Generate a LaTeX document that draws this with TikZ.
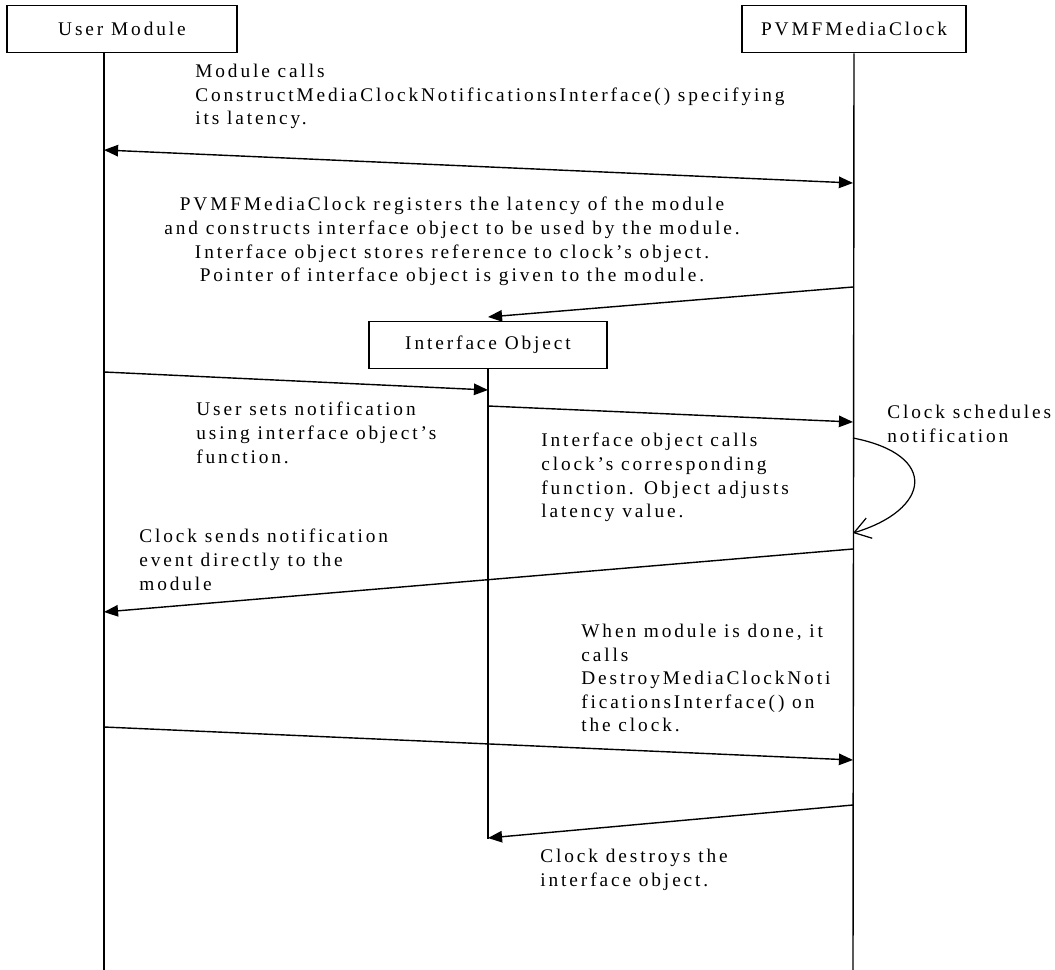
\documentclass[tikz,border=0pt]{standalone}
\usepackage{fontspec}
\setmainfont[LetterSpace=15]{Liberation Serif}
\usetikzlibrary{arrows.meta,positioning}
\tikzset{
  objbox/.style={draw, line width=0.9pt, minimum height=0.94cm, inner sep=0pt, font=\fontsize{11}{13.5}\selectfont},
  lifeline/.style={line width=0.8pt},
  msg/.style={line width=0.8pt, -{Triangle[length=8pt,width=6.5pt]}},
  msgboth/.style={line width=0.8pt, {Triangle[length=8pt,width=6.5pt]}-{Triangle[length=8pt,width=6.5pt]}},
  selfmsg/.style={line width=0.7pt, -{Straight Barb[length=9pt,width=12pt]}},
  note/.style={anchor=north west, inner sep=0pt, align=left, font=\fontsize{11}{13.4}\selectfont}
}
\begin{document}
\begin{tikzpicture}[x=0.02cm, y=-0.02cm]
\useasboundingbox (0,0) rectangle (1055,970);
% Objects
\node[objbox, minimum width=4.6cm] (user) at (122,29) {User Module};
\node[objbox, minimum width=4.48cm] (clock) at (854,29) {PVMFMediaClock};
\node[objbox, minimum width=4.76cm] (iface) at (488,345) {Interface Object};
% Lifelines
\coordinate (uTop) at (104,53);
\coordinate (uEnd) at (104,970);
\coordinate (cEnd) at (853,970);
\coordinate (iEnd) at (488,839);
\draw[lifeline] (uTop) -- (uEnd);
\draw[lifeline] (clock.south) -- (cEnd);
\draw[lifeline] (iface.south) -- (iEnd);
% Construct interface
\coordinate (u1) at (104,150);
\coordinate (c1) at (853,183);
\draw[msgboth] (u1) -- (c1);
\node[note] (t1) at (195,64) {Module calls\\ConstructMediaClockNotificationsInterface() specifying\\its latency.};
% Interface pointer handed back
\coordinate (c2) at (853,287);
\coordinate (i2) at (488,317);
\draw[msg] (c2) -- (i2);
\node[note, anchor=north, align=center] (t2) at (452,197) {PVMFMediaClock registers the latency of the module\\and constructs interface object to be used by the module.\\Interface object stores reference to clock's object.\\Pointer of interface object is given to the module.};
% Set notification
\coordinate (u3) at (104,372);
\coordinate (i3) at (488,390);
\draw[msg] (u3) -- (i3);
\node[note] (t3) at (196,402) {User sets notification\\using interface object's\\function.};
\coordinate (i4) at (488,406);
\coordinate (c4) at (853,422);
\draw[msg] (i4) -- (c4);
\node[note] (t4) at (541,433) {Interface object calls\\clock's corresponding\\function. Object adjusts\\latency value.};
% Clock schedules
\coordinate (c5a) at (853,438);
\coordinate (c5b) at (853,533);
\draw[selfmsg] (c5a) .. controls (940,455) and (930,510) .. (c5b);
\node[note] (t5) at (887,405) {Clock schedules\\notification};
% Notification event
\coordinate (c6) at (853,549);
\coordinate (u6) at (104,612);
\draw[msg] (c6) -- (u6);
\node[note] (t6) at (139,529) {Clock sends notification\\event directly to the\\module};
% Destroy
\coordinate (u7) at (104,727);
\coordinate (c7) at (853,760);
\draw[msg] (u7) -- (c7);
\node[note] (t7) at (581,624) {When module is done, it\\calls\\DestroyMediaClockNoti\\ficationsInterface() on\\the clock.};
\coordinate (c8) at (853,805);
\coordinate (i8) at (488,838);
\draw[msg] (c8) -- (i8);
\node[note] (t8) at (540,849) {Clock destroys the\\interface object.};
\end{tikzpicture}
\end{document}
